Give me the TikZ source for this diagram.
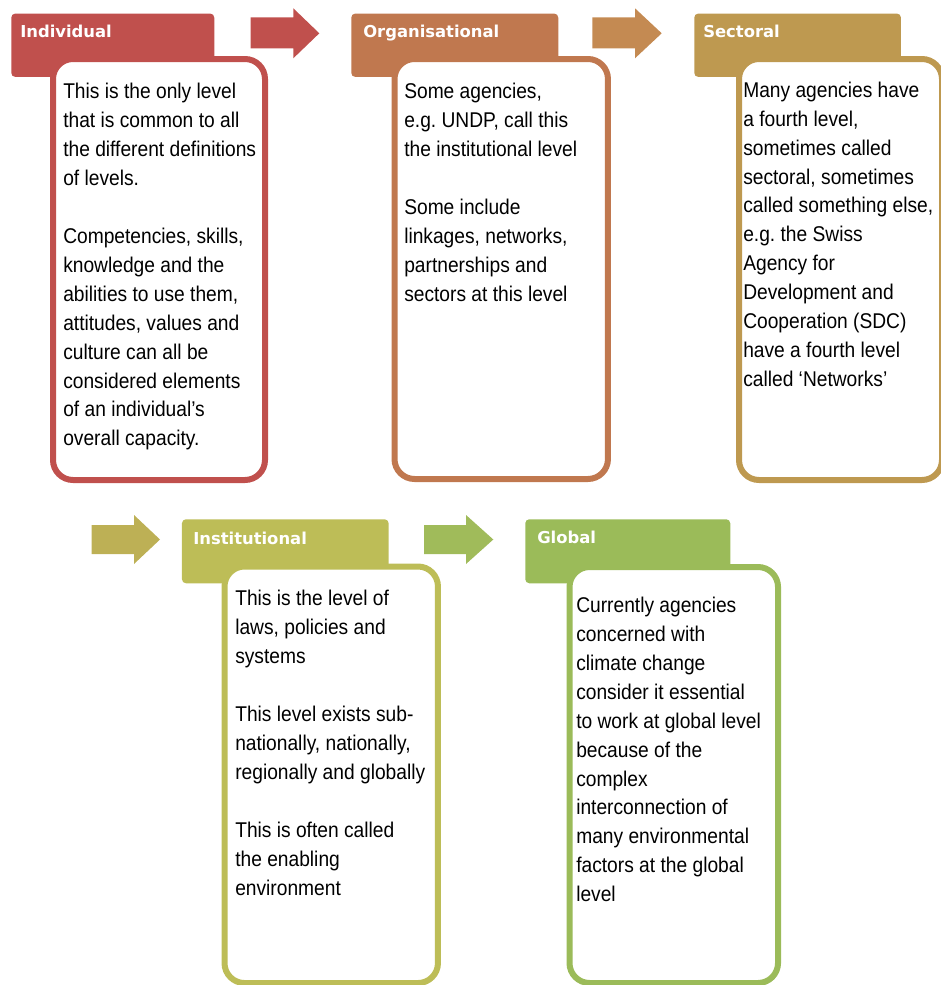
\documentclass[tikz,border=0pt]{standalone}
\usepackage{fontspec}
\setmainfont{Liberation Sans}[FakeStretch=0.9]
\newfontfamily\ttlfont{DejaVu Sans}
\frenchspacing
\definecolor{cInd}{HTML}{C0504D}
\definecolor{cOrg}{HTML}{C0784F}
\definecolor{cSec}{HTML}{BE9950}
\definecolor{cIns}{HTML}{BDBD57}
\definecolor{cGlo}{HTML}{9BBB59}
\definecolor{aOne}{HTML}{C0504D}
\definecolor{aTwo}{HTML}{C48A52}
\definecolor{aThree}{HTML}{BDB055}
\definecolor{aFour}{HTML}{A0BB5A}
\tikzset{
  ttlbox/.style={fill=#1, draw=none, rounded corners=3pt, anchor=north west, inner sep=0pt},
  ttltext/.style={anchor=base west, inner sep=0pt, text=white, font=\ttlfont\bfseries\fontsize{12.3}{14}\selectfont},
  cbox/.style={draw=#1, fill=white, line width=4.5pt, rounded corners=15pt, anchor=north west, inner sep=0pt},
  body/.style={anchor=north west, inner sep=0pt, align=left, text=black, font=\fontsize{16}{21.7}\selectfont\frenchspacing},
  blockarrow/.style={fill=#1, draw=none}
}
\begin{document}
\begin{tikzpicture}[x=0.75pt,y=-0.75pt]
\useasboundingbox (0,0) rectangle (940,985);

% block arrows
\fill[blockarrow=aOne] (250.5,17.3) -- (293.3,17.3) -- (293.3,8.3) -- (319.3,33.3) -- (293.3,58.3) -- (293.3,48.3) -- (250.5,48.3) -- cycle;
\fill[blockarrow=aTwo] (592.3,17.3) -- (635,17.3) -- (635,8.3) -- (661.7,33.3) -- (635,58.3) -- (635,48.3) -- (592.3,48.3) -- cycle;
\fill[blockarrow=aThree] (91.7,525) -- (134,525) -- (134,515) -- (160,539.5) -- (134,564) -- (134,554) -- (91.7,554) -- cycle;
\fill[blockarrow=aFour] (424,525) -- (466,525) -- (466,515) -- (493.3,539.5) -- (466,564) -- (466,554) -- (424,554) -- cycle;

% title boxes
\node[ttlbox=cInd, minimum width=152.25pt, minimum height=47.5pt] (tInd) at (11,13.3) {};
\node[ttlbox=cOrg, minimum width=155.25pt, minimum height=47.5pt] (tOrg) at (351,13.3) {};
\node[ttlbox=cSec, minimum width=155pt, minimum height=47.5pt] (tSec) at (694,13.3) {};
\node[ttlbox=cIns, minimum width=155pt, minimum height=48pt] (tIns) at (181.7,519) {};
\node[ttlbox=cGlo, minimum width=153.75pt, minimum height=48pt] (tGlo) at (525,519) {};

\node[ttltext] (lInd) at (20,37.3) {Individual};
\node[ttltext] (lOrg) at (363,37.3) {Organisational};
\node[ttltext] (lSec) at (703,37.3) {Sectoral};
\node[ttltext] (lIns) at (193,544) {Institutional};
\node[ttltext] (lGlo) at (537,543.5) {Global};

% content boxes
\node[cbox=cInd, minimum width=159pt, minimum height=315.75pt] (bInd) at (50,56) {};
\node[cbox=cOrg, minimum width=160.1pt, minimum height=315pt] (bOrg) at (391.5,56) {};
\node[cbox=cSec, minimum width=152.25pt, minimum height=315.75pt] (bSec) at (736,56) {};
\node[cbox=cIns, minimum width=160.1pt, minimum height=312.4pt] (bIns) at (221.5,563.5) {};
\node[cbox=cGlo, minimum width=156.4pt, minimum height=312pt] (bGlo) at (566.5,564) {};

% texts
\node[body] (xInd) at (63,83) {This is the only level\\that is common to all\\the different definitions\\of levels.\\[21.7pt]Competencies, skills,\\knowledge and the\\abilities to use them,\\attitudes, values and\\culture can all be\\considered elements\\of an individual’s\\overall capacity.};
\node[body] (xOrg) at (404,83) {Some agencies,\\e.g. UNDP, call this\\the institutional level\\[21.7pt]Some include\\linkages, networks,\\partnerships and\\sectors at this level};
\node[body] (xSec) at (743,81.5) {Many agencies have\\a fourth level,\\sometimes called\\sectoral, sometimes\\called something else,\\e.g. the Swiss\\Agency for\\Development and\\Cooperation (SDC)\\have a fourth level\\called ‘Networks’};
\node[body] (xIns) at (235,590) {This is the level of\\laws, policies and\\systems\\[21.7pt]This level exists sub-\\nationally, nationally,\\regionally and globally\\[21.7pt]This is often called\\the enabling\\environment};
\node[body] (xGlo) at (576,596.7) {Currently agencies\\concerned with\\climate change\\consider it essential\\to work at global level\\because of the\\complex\\interconnection of\\many environmental\\factors at the global\\level};
\end{tikzpicture}
\end{document}
